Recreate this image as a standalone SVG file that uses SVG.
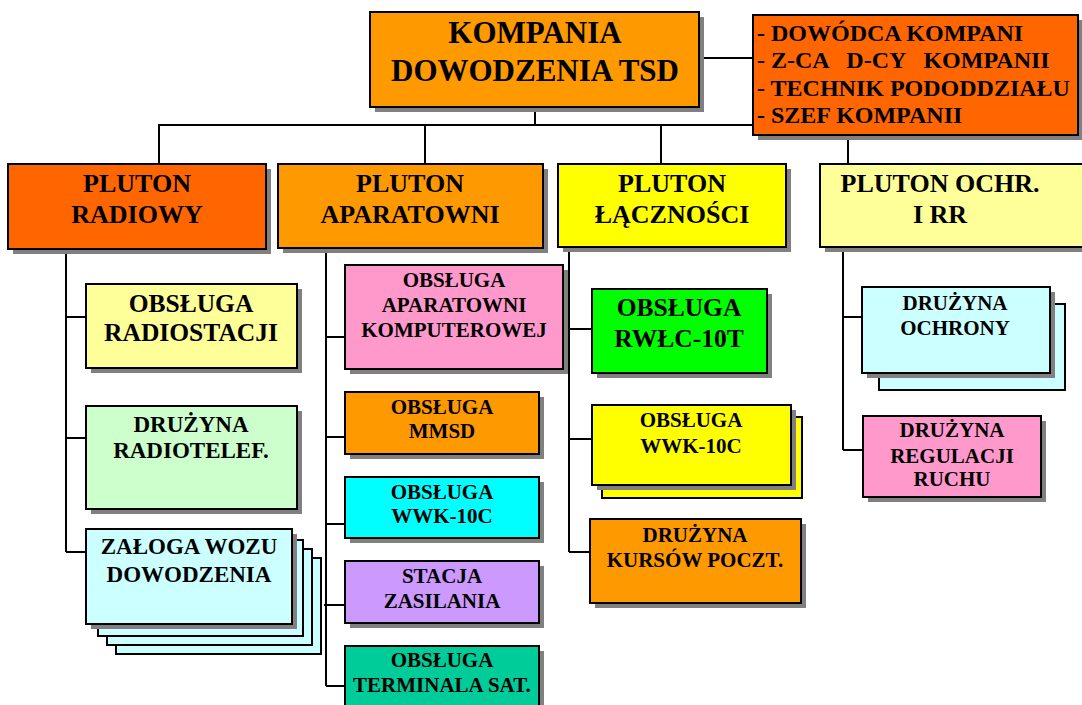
<svg xmlns="http://www.w3.org/2000/svg" width="1082" height="705" viewBox="0 0 1082 705">
<style>
text{font-family:"Liberation Serif","Times New Roman",serif;font-weight:bold;fill:#000;text-anchor:middle}
.box{stroke:#000;stroke-width:2}
.sh{fill:#808080}
.ln{stroke:#000;stroke-width:2;fill:none}
.t31{font-size:31px}
.t26{font-size:26px}
.t25{font-size:25.5px}
.t23{font-size:23px}
.t21{font-size:21px}
.staff{font-size:24px;text-anchor:start;white-space:pre}
</style>
<rect width="1082" height="705" fill="#fff"/>
<g id="connectors">
<path class="ln" d="M699 58H753"/>
<path class="ln" d="M535 107V125M158 125H753M159 125V164M425 125V164M661 125V164M848 135V164"/>
<path class="ln" d="M66 249V552M66 317H86M66 438H86M66 552H86"/>
<path class="ln" d="M326 248V686M326 337H345M326 437H345M326 524H345M324 605H345M326 686H345"/>
<path class="ln" d="M569 247V552M569 329H592M569 439H592M569 552H590"/>
<path class="ln" d="M843 247V450M843 317H863M843 450H863"/>
</g>
<g id="kompania">
<rect class="sh" x="375" y="17" width="329" height="95"/>
<rect class="box" x="370" y="12" width="329" height="95" fill="#FF9900"/>
<text class="t31" x="535" y="43">KOMPANIA</text>
<text class="t31" x="535" y="81">DOWODZENIA TSD</text>
</g>
<g id="dowodztwo">
<rect class="sh" x="758" y="20" width="330" height="120"/>
<rect class="box" x="753" y="15" width="325" height="120" fill="#FF6600"/>
<text class="staff" x="757" y="41">- DOWÓDCA KOMPANI</text>
<text class="staff" x="757" y="68">- Z-CA   D-CY   KOMPANII</text>
<text class="staff" x="757" y="96">- TECHNIK PODODDZIAŁU</text>
<text class="staff" x="757" y="123">- SZEF KOMPANII</text>
</g>
<g id="pluton-radiowy">
<rect class="sh" x="13" y="169" width="258" height="85"/>
<rect class="box" x="8" y="164" width="258" height="85" fill="#FF6600"/>
<text class="t26" x="137" y="192">PLUTON</text>
<text class="t26" x="137" y="223">RADIOWY</text>
</g>
<g id="pluton-aparatowni">
<rect class="sh" x="283" y="169" width="265" height="84"/>
<rect class="box" x="278" y="164" width="265" height="84" fill="#FF9900"/>
<text class="t26" x="410" y="192">PLUTON</text>
<text class="t26" x="410" y="223">APARATOWNI</text>
</g>
<g id="pluton-lacznosci">
<rect class="sh" x="563" y="169" width="228" height="83"/>
<rect class="box" x="558" y="164" width="228" height="83" fill="#FFFF00"/>
<text class="t26" x="672" y="192">PLUTON</text>
<text class="t26" x="672" y="223">ŁĄCZNOŚCI</text>
</g>
<g id="pluton-ochr">
<rect class="sh" x="825" y="169" width="265" height="83"/>
<rect class="box" x="820" y="164" width="265" height="83" fill="#FFFF99"/>
<text class="t26" x="940" y="192">PLUTON OCHR.</text>
<text class="t26" x="940" y="223">I RR</text>
</g>
<g id="obsluga-radiostacji">
<rect class="sh" x="91" y="289" width="211" height="84"/>
<rect class="box" x="86" y="284" width="211" height="84" fill="#FFFF99"/>
<text class="t25" x="191" y="312">OBSŁUGA</text>
<text class="t25" x="191" y="341">RADIOSTACJI</text>
</g>
<g id="druzyna-radiotelef">
<rect class="sh" x="91" y="411" width="211" height="103"/>
<rect class="box" x="86" y="406" width="211" height="103" fill="#CCFFCC"/>
<text class="t23" x="191" y="432">DRUŻYNA</text>
<text class="t23" x="191" y="458">RADIOTELEF.</text>
</g>
<g id="zaloga-wozu">
<rect class="box" x="116" y="558" width="205" height="96" fill="#CCFFFF"/>
<rect class="box" x="107" y="549" width="205" height="96" fill="#CCFFFF"/>
<rect class="box" x="98" y="540" width="205" height="96" fill="#CCFFFF"/>
<rect class="sh" x="91" y="534" width="206" height="95"/>
<rect class="box" x="86" y="529" width="206" height="95" fill="#CCFFFF"/>
<text class="t23" x="189" y="554">ZAŁOGA WOZU</text>
<text class="t23" x="189" y="582">DOWODZENIA</text>
</g>
<g id="obsluga-aparatowni-komputerowej">
<rect class="sh" x="350" y="270" width="218" height="104"/>
<rect class="box" x="345" y="265" width="218" height="104" fill="#FF99CC"/>
<text class="t21" x="454" y="287">OBSŁUGA</text>
<text class="t21" x="454" y="312">APARATOWNI</text>
<text class="t21" x="454" y="337">KOMPUTEROWEJ</text>
</g>
<g id="obsluga-mmsd">
<rect class="sh" x="350" y="397" width="194" height="62"/>
<rect class="box" x="345" y="392" width="194" height="62" fill="#FF9900"/>
<text class="t21" x="442" y="414">OBSŁUGA</text>
<text class="t21" x="442" y="438">MMSD</text>
</g>
<g id="obsluga-wwk-apar">
<rect class="sh" x="350" y="482" width="194" height="61"/>
<rect class="box" x="345" y="477" width="194" height="61" fill="#00FFFF"/>
<text class="t21" x="442" y="499">OBSŁUGA</text>
<text class="t21" x="442" y="523">WWK-10C</text>
</g>
<g id="stacja-zasilania">
<rect class="sh" x="350" y="566" width="194" height="62"/>
<rect class="box" x="345" y="561" width="194" height="62" fill="#CC99FF"/>
<text class="t21" x="442" y="583">STACJA</text>
<text class="t21" x="442" y="608">ZASILANIA</text>
</g>
<g id="obsluga-terminala">
<rect class="sh" x="350" y="651" width="194" height="70"/>
<rect class="box" x="345" y="646" width="194" height="70" fill="#00CC99"/>
<text class="t21" x="442" y="667">OBSŁUGA</text>
<text class="t21" x="442" y="692">TERMINALA SAT.</text>
</g>
<g id="obsluga-rwlc">
<rect class="sh" x="597" y="294" width="175" height="84"/>
<rect class="box" x="592" y="289" width="175" height="84" fill="#00FF00"/>
<text class="t25" x="679" y="316">OBSŁUGA</text>
<text class="t25" x="679" y="347">RWŁC-10T</text>
</g>
<g id="obsluga-wwk-lacz">
<rect class="box" x="602" y="417" width="200" height="81" fill="#FFFF00"/>
<rect class="sh" x="597" y="410" width="199" height="80"/>
<rect class="box" x="592" y="405" width="199" height="80" fill="#FFFF00"/>
<text class="t21" x="691" y="427">OBSŁUGA</text>
<text class="t21" x="691" y="453">WWK-10C</text>
</g>
<g id="druzyna-kursow">
<rect class="sh" x="595" y="524" width="211" height="84"/>
<rect class="box" x="590" y="519" width="211" height="84" fill="#FF9900"/>
<text class="t21" x="695" y="542">DRUŻYNA</text>
<text class="t21" x="695" y="567">KURSÓW POCZT.</text>
</g>
<g id="druzyna-ochrony">
<rect class="box" x="879" y="304" width="186" height="86" fill="#CCFFFF"/>
<rect class="sh" x="867" y="292" width="188" height="86"/>
<rect class="box" x="862" y="287" width="188" height="86" fill="#CCFFFF"/>
<text class="t21" x="955" y="310">DRUŻYNA</text>
<text class="t21" x="955" y="335">OCHRONY</text>
</g>
<g id="druzyna-regulacji">
<rect class="sh" x="868" y="421" width="178" height="81"/>
<rect class="box" x="863" y="416" width="178" height="81" fill="#FF99CC"/>
<text class="t21" x="952" y="437">DRUŻYNA</text>
<text class="t21" x="952" y="463">REGULACJI</text>
<text class="t21" x="952" y="486">RUCHU</text>
</g>
</svg>
